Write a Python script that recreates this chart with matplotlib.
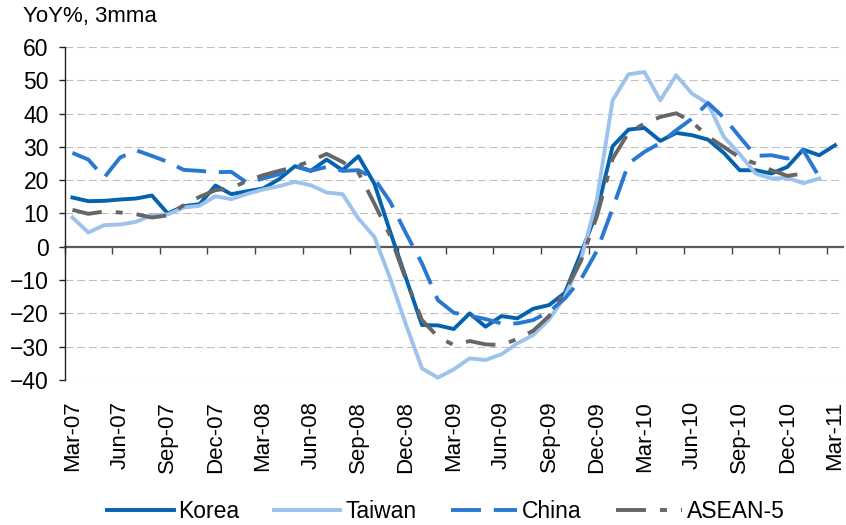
import numpy as np
import matplotlib
matplotlib.use('Agg')
import matplotlib.pyplot as plt

plt.rcParams['font.family'] = ['Liberation Sans', 'DejaVu Sans']

# Monthly, Mar-07 .. Mar-11 (YoY%, 3mma)
months = ['Mar-07', 'Apr-07', 'May-07', 'Jun-07', 'Jul-07', 'Aug-07', 'Sep-07', 'Oct-07', 'Nov-07',
          'Dec-07', 'Jan-08', 'Feb-08', 'Mar-08', 'Apr-08', 'May-08', 'Jun-08', 'Jul-08', 'Aug-08',
          'Sep-08', 'Oct-08', 'Nov-08', 'Dec-08', 'Jan-09', 'Feb-09', 'Mar-09', 'Apr-09', 'May-09',
          'Jun-09', 'Jul-09', 'Aug-09', 'Sep-09', 'Oct-09', 'Nov-09', 'Dec-09', 'Jan-10', 'Feb-10',
          'Mar-10', 'Apr-10', 'May-10', 'Jun-10', 'Jul-10', 'Aug-10', 'Sep-10', 'Oct-10', 'Nov-10',
          'Dec-10', 'Jan-11', 'Feb-11', 'Mar-11']
nan = np.nan

korea = [14.8, 13.7, 13.8, 14.2, 14.5, 15.4, 10.0, 12.2, 12.8, 18.4, 15.8, 16.7, 17.5, 20.3, 24.2,
         22.8, 26.2, 23.0, 27.2, 19.0, 4.5, -9.5, -23.5, -23.6, -24.7, -20.0, -24.0, -20.8, -21.5,
         -18.6, -17.5, -13.8, -2.0, 10.3, 30.2, 35.2, 35.7, 31.8, 34.2, 33.5, 32.2, 28.2, 23.0,
         23.0, 22.0, 24.0, 29.2, 27.5, 30.5]
taiwan = [8.8, 4.3, 6.5, 6.7, 7.5, 9.5, 9.7, 11.8, 12.3, 15.2, 14.3, 15.9, 17.2, 18.2, 19.5,
          18.5, 16.3, 15.8, 8.5, 3.0, -9.5, -23.5, -36.5, -39.3, -36.8, -33.5, -34.0, -32.3, -29.0,
          -26.5, -21.8, -15.0, -4.0, 14.0, 44.0, 51.8, 52.5, 44.0, 51.5, 46.0, 43.0, 33.0, 27.8,
          22.0, 20.5, 20.7, 19.1, 20.5, nan]
china = [28.2, 26.2, 20.8, 26.8, 29.0, 27.3, 25.5, 23.1, 22.8, 22.4, 22.5, 19.2, 20.5, 21.8, 24.5,
         22.8, 24.0, 22.8, 23.0, 20.5, 13.5, 4.0, -5.0, -16.0, -19.8, -20.7, -21.7, -23.0, -23.0,
         -22.0, -19.5, -15.5, -9.8, -1.3, 11.5, 25.0, 28.5, 31.2, 35.0, 38.5, 43.2, 38.8, 33.0,
         27.3, 27.5, 26.5, 29.0, 21.0, nan]
asean5 = [11.1, 9.9, 10.6, 10.3, 9.8, 8.8, 9.4, 12.5, 15.0, 17.0, 17.6, 19.8, 21.5, 22.8, 24.0,
          25.8, 27.9, 25.5, 22.3, 13.0, 3.3, -10.0, -22.0, -27.0, -29.5, -28.3, -29.3, -29.5, -27.7,
          -25.2, -20.8, -13.3, -4.3, 9.0, 26.5, 34.3, 37.0, 39.0, 40.1, 37.5, 33.1, 30.0, 26.8,
          25.0, 23.0, 21.3, 22.0, nan, nan]

x = np.arange(len(months))

fig = plt.figure(figsize=(8.46, 5.25), dpi=100)
ax = fig.add_axes([64.5 / 846, 145 / 525, (843 - 64.5) / 846, 333 / 525])

lw = 2.8
ax.plot(x, korea, color='#0562B0', lw=lw, label='Korea', zorder=3)
ax.plot(x, taiwan, color='#9DC3EC', lw=lw, label='Taiwan', zorder=3)
ax.plot(x, china, color='#2979D3', lw=lw, dashes=[7.7, 3.3], label='China', zorder=3)
ax.plot(x, asean5, color='#666666', lw=lw, dashes=[7.7, 3.6, 1.8, 3.6], label='ASEAN-5', zorder=3)

ax.set_xlim(-0.5, len(months) - 0.5)
ax.set_ylim(-40, 60)

# grid (dashed, no line at zero)
for v in range(-40, 61, 10):
    if v != 0:
        ax.axhline(v, color='#C0C0C0', lw=0.8, dashes=(7, 3.6), zorder=1)

ax.spines['top'].set_visible(False)
ax.spines['right'].set_visible(False)
ax.spines['left'].set_color('#222222')
ax.spines['left'].set_linewidth(1.0)
ax.spines['bottom'].set_position(('data', 0))
ax.spines['bottom'].set_color('#5a5a5a')
ax.spines['bottom'].set_linewidth(1.6)
ax.spines['bottom'].set_zorder(2)

ax.set_yticks(range(-40, 61, 10))
ax.tick_params(axis='y', direction='out', length=4.3, width=1, color='#222222',
               labelsize=16.5, pad=7)

# tick marks at category boundaries every 3 months, labels at the bottom
ax.set_xticks(np.arange(-0.5, len(months) - 1, 3))
ax.tick_params(axis='x', direction='out', length=5, width=1, color='#444444', labelbottom=False)

sec = ax.secondary_xaxis('bottom')
sec.set_xticks(x[::3], [months[i] for i in x[::3]], rotation=90)
sec.tick_params(length=0, pad=15, labelsize=16)
sec.spines['bottom'].set_visible(False)

fig.text(22.7 / 846, 1 - 21.7 / 525, 'YoY%, 3mma', fontsize=16, ha='left', va='baseline')

fig.legend(loc='center', bbox_to_anchor=(446 / 846, 1 - 512 / 525), ncol=4, frameon=False,
           fontsize=16.5, handlelength=2.9, handletextpad=0.2, columnspacing=1.5)

fig.savefig('out.png', dpi=100, facecolor='white')
